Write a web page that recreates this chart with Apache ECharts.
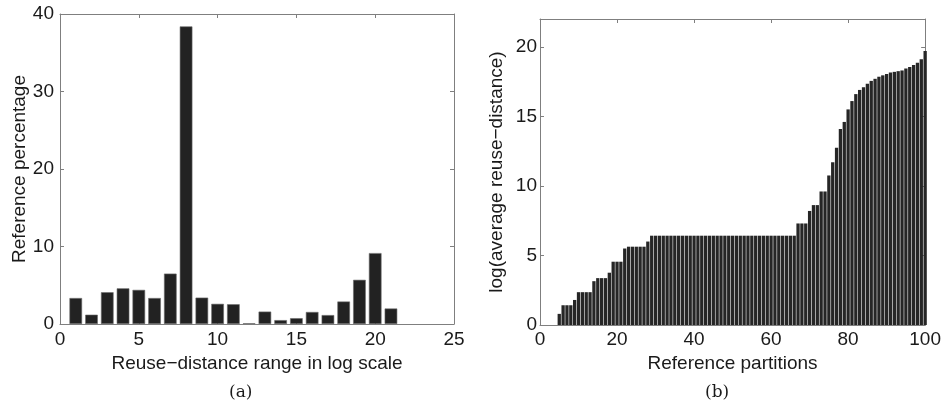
<!DOCTYPE html>
<html>
<head>
<meta charset="utf-8">
<script src="https://cdn.jsdelivr.net/npm/echarts@6/dist/echarts.min.js"></script>
<style>
  html, body { margin: 0; padding: 0; background: #fff; }
  #chart { width: 944px; height: 410px; }
</style>
</head>
<body>
<div id="chart"></div>
<script>
// (a) reuse-distance histogram
var rangeBins = [1, 2, 3, 4, 5, 6, 7, 8, 9, 10, 11, 12, 13, 14, 15, 16, 17, 18, 19, 20, 21];
var refPercent = [3.35, 1.2, 4.1, 4.6, 4.4, 3.35, 6.5, 38.4, 3.4, 2.6, 2.55, 0.1, 1.6, 0.5, 0.75, 1.55, 1.15, 2.9, 5.7, 9.15, 2.0];

// (b) average reuse distance per reference partition (sorted)
var partitions = [];
for (var i = 1; i <= 100; i++) partitions.push(i);
var avgReuse = [
    0, 0, 0, 0, 0.8, 1.42, 1.42, 1.42, 1.8, 2.36,
    2.36, 2.36, 2.36, 3.15, 3.37, 3.37, 3.37, 3.76, 4.55, 4.55,
    4.55, 5.5, 5.63, 5.63, 5.63, 5.63, 5.63, 6.0, 6.42, 6.42,
    6.42, 6.42, 6.42, 6.42, 6.42, 6.42, 6.42, 6.42, 6.42, 6.42,
    6.42, 6.42, 6.42, 6.42, 6.42, 6.42, 6.42, 6.42, 6.42, 6.42,
    6.42, 6.42, 6.42, 6.42, 6.42, 6.42, 6.42, 6.42, 6.42, 6.42,
    6.42, 6.42, 6.42, 6.42, 6.42, 6.42, 7.3, 7.3, 7.3, 8.2,
    8.62, 8.62, 9.6, 9.6, 10.75, 11.7, 12.75, 14.1, 14.6, 15.5,
    16.1, 16.6, 16.9, 17.1, 17.35, 17.55, 17.7, 17.85, 17.95, 18.05,
    18.15, 18.2, 18.25, 18.3, 18.45, 18.55, 18.7, 18.85, 19.1, 19.7
];

var textColor = '#1a1a1a';
var frameColor = '#7f7f7f';
var sans = 'Liberation Sans';

function pairs(xs, ys) {
    return xs.map(function(x, k) { return [x, ys[k]]; });
}

// matlab-like boxed axes: main axis with labels + mirrored axis with ticks only
function mainAxis(gi, pos, min, max, interval, name, nameGap, labelMargin) {
    return {
        type: 'value', gridIndex: gi, position: pos,
        min: min, max: max, interval: interval,
        name: name, nameLocation: 'middle', nameGap: nameGap,
        nameTextStyle: { color: textColor, fontSize: 19, fontFamily: sans },
        axisLine: { show: true, onZero: false, lineStyle: { color: frameColor, width: 1 } },
        axisTick: { show: true, inside: true, length: 4, lineStyle: { color: frameColor } },
        axisLabel: {
            color: textColor, fontSize: 19, fontFamily: sans, margin: labelMargin,
            formatter: function(v) { return v % interval === 0 ? String(v) : ''; }
        },
        splitLine: { show: false }
    };
}
function mirrorAxis(gi, pos, min, max, interval) {
    return {
        type: 'value', gridIndex: gi, position: pos,
        min: min, max: max, interval: interval,
        axisLine: { show: true, onZero: false, lineStyle: { color: frameColor, width: 1 } },
        axisTick: { show: true, inside: true, length: 4, lineStyle: { color: frameColor } },
        axisLabel: { show: false },
        splitLine: { show: false }
    };
}

var chart = echarts.init(document.getElementById('chart'), null, { renderer: 'canvas' });

var option = {
    backgroundColor: '#fff',
    animation: false,
    title: [
        { text: '(a)', left: 224, top: 379, textStyle: { fontFamily: 'DejaVu Serif', fontWeight: 'normal', fontSize: 17, color: textColor } },
        { text: '(b)', left: 700, top: 379, textStyle: { fontFamily: 'DejaVu Serif', fontWeight: 'normal', fontSize: 17, color: textColor } }
    ],
    grid: [
        { left: 60, right: 490, top: 14, bottom: 86 },
        { left: 540, right: 16, top: 19, bottom: 85 }
    ],
    xAxis: [
        mainAxis(0, 'bottom', 0, 25, 5, 'Reuse\u2212distance range in log scale', 26, 6),
        mirrorAxis(0, 'top', 0, 25, 5),
        mainAxis(1, 'bottom', 0, 100, 20, 'Reference partitions', 19, 5),
        mirrorAxis(1, 'top', 0, 100, 20)
    ],
    yAxis: [
        mainAxis(0, 'left', 0, 40, 10, 'Reference percentage', 31, 6),
        mirrorAxis(0, 'right', 0, 40, 10),
        mainAxis(1, 'left', 0, 22, 5, 'log(average reuse\u2212distance)', 34, 3),
        mirrorAxis(1, 'right', 0, 22, 5)
    ],
    series: [
        {
            type: 'bar', xAxisIndex: 0, yAxisIndex: 0,
            data: pairs(rangeBins, refPercent),
            barWidth: 12.6,
            itemStyle: { color: '#222222', borderColor: '#6a6a6a', borderWidth: 0.6 }
        },
        {
            type: 'bar', xAxisIndex: 2, yAxisIndex: 2,
            data: pairs(partitions, avgReuse),
            barWidth: 3.3,
            itemStyle: { color: '#262626' }
        }
    ]
};
chart.setOption(option);
</script>
</body>
</html>
